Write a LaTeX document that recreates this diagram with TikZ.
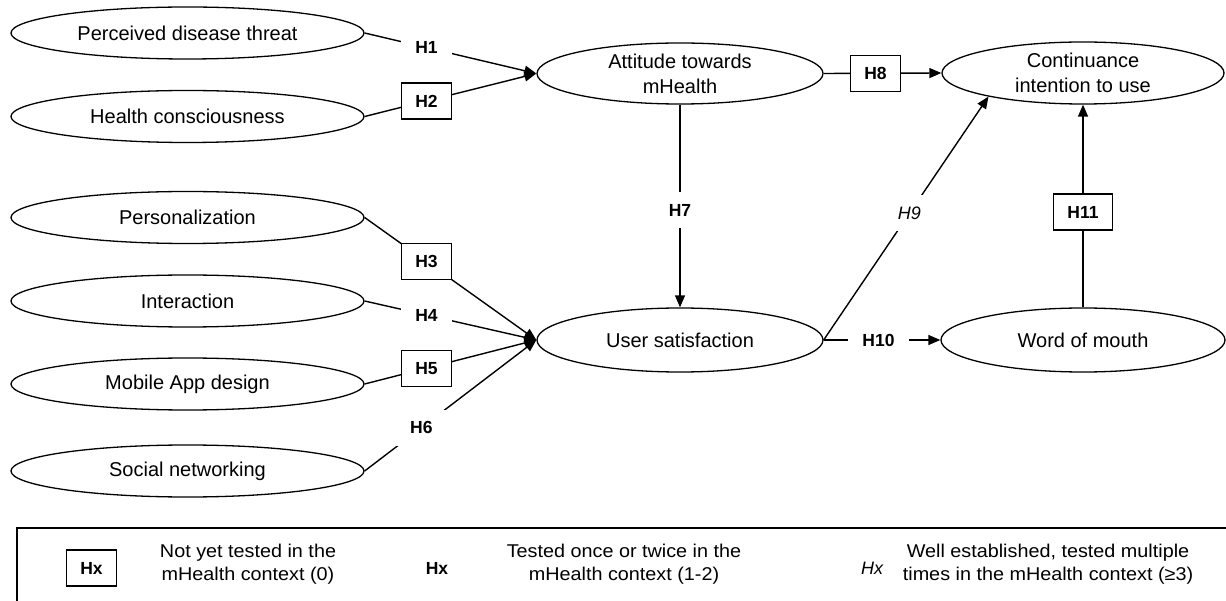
\documentclass[tikz,border=0pt]{standalone}
\usepackage{fontspec}
\setmainfont{Liberation Sans}
\newfontfamily\legfont[FakeStretch=1.07]{Liberation Sans}
\usetikzlibrary{shapes.geometric,arrows.meta}
\begin{document}
\begin{tikzpicture}[x=1pt,y=-1pt,
  ell/.style={draw, ellipse, line width=1.3pt, inner sep=0pt, align=center, font=\fontsize{20}{25}\selectfont},
  lell/.style={ell, minimum width=353pt, minimum height=52pt},
  hbase/.style={fill=white, inner xsep=14pt, inner ysep=0pt, minimum height=36pt, font=\fontsize{17.5}{20}\selectfont\bfseries},
  hbox/.style={hbase, draw, line width=1.3pt},
  hlab/.style={hbase},
  hital/.style={hbase, font=\fontsize{18}{20}\selectfont\itshape},
  conn/.style={line width=1.4pt},
  arr/.style={conn, -{Triangle[length=12pt,width=10pt]}},
  legtxt/.style={align=center, font=\legfont\fontsize{18.5}{23}\selectfont, inner sep=0pt}
]
\useasboundingbox (0,0) rectangle (1226,601);

\node[lell] (pdt) at (187.5,33) {Perceived disease threat};
\node[lell] (hc) at (187.5,116.5) {Health consciousness};
\node[lell] (per) at (187.5,217.5) {Personalization};
\node[lell] (int) at (187.5,301) {Interaction};
\node[lell] (mad) at (187.5,384) {Mobile App design};
\node[lell] (sn) at (187.5,471) {Social networking};
\node[ell, minimum width=286pt, minimum height=61pt] (att) at (680,73.5) {Attitude towards\\mHealth};
\node[ell, minimum width=282pt, minimum height=62pt] (cont) at (1083,73) {Continuance\\intention to use};
\node[ell, minimum width=286pt, minimum height=64pt] (us) at (680,340) {User satisfaction};
\node[ell, minimum width=284pt, minimum height=64pt] (wom) at (1083,340) {Word of mouth};

\draw[arr] (pdt.east) -- node[hlab, pos=0.36] (h1) {H1} (att.west);
\draw[arr] (hc.east) -- node[hbox, pos=0.36] (h2) {H2} (att.west);
\draw[arr] (per.east) -- node[hbox, pos=0.36] (h3) {H3} (us.west);
\draw[arr] (int.east) -- node[hlab, pos=0.36] (h4) {H4} (us.west);
\draw[arr] (mad.east) -- node[hbox, pos=0.36] (h5) {H5} (us.west);
\draw[arr] (sn.east) -- node[hlab, pos=0.33] (h6) {H6} (us.west);
\draw[arr] (att.south) -- node[hlab, pos=0.52] (h7) {H7} (us.north);
\draw[arr] (att.east) -- node[hbox, pos=0.44] (h8) {H8} (cont.west);
\draw[arr] (us.east) -- node[hital, pos=0.52] (h9) {H9} (cont.194);
\draw[arr] (us.east) -- node[hlab, pos=0.47] (h10) {H10} (wom.west);
\draw[arr] (wom.north) -- node[hbox, pos=0.47] (h11) {H11} (cont.south);

\draw[conn] (1226,528) -- (17,528) -- (17,601);
\node[hbox] (lg1) at (91.5,568) {Hx};
\node[legtxt] (lt1) at (248,564) {Not yet tested in the\\mHealth context (0)};
\node[hlab] (lg2) at (437,568) {Hx};
\node[legtxt] (lt2) at (624,564) {Tested once or twice in the\\mHealth context (1-2)};
\node[hital] (lg3) at (872,568) {Hx};
\node[legtxt] (lt3) at (1048,564) {Well established, tested multiple\\times in the mHealth context (≥3)};
\end{tikzpicture}
\end{document}
